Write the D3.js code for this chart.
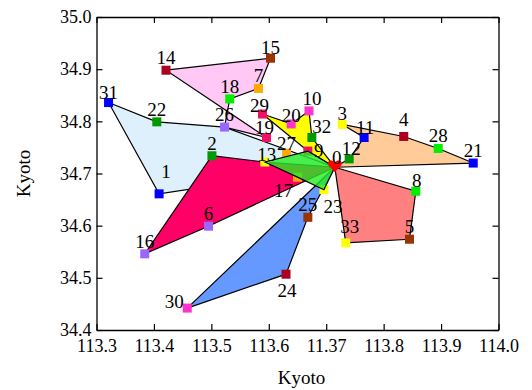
<!DOCTYPE html>
<html>
<head>
<meta charset="utf-8">
<script src="https://cdn.jsdelivr.net/npm/d3@7"></script>
<style>
  html, body { margin: 0; padding: 0; background: #ffffff; }
  svg text { font-family: "Liberation Serif", "DejaVu Serif", serif; fill: #000; }
</style>
</head>
<body>
<svg id="chart" width="532" height="390"></svg>
<script>
// Node coordinates (longitude, latitude), one entry per node id 0..33
const nodeLon = [113.715, 113.409, 113.501, 113.728, 113.835, 113.845, 113.495, 113.582, 113.856, 113.668,
                 113.670, 113.766, 113.740, 113.593, 113.421, 113.603, 113.384, 113.650, 113.532, 113.596,
                 113.639, 113.956, 113.405, 113.696, 113.630, 113.668, 113.523, 113.631, 113.895, 113.589,
                 113.458, 113.321, 113.675, 113.734];
const nodeLat = [34.712, 34.661, 34.734, 34.794, 34.771, 34.574, 34.599, 34.863, 34.666, 34.743,
                 34.820, 34.769, 34.728, 34.722, 34.898, 34.921, 34.546, 34.693, 34.843, 34.769,
                 34.795, 34.720, 34.799, 34.669, 34.507, 34.616, 34.789, 34.739, 34.748, 34.814,
                 34.442, 34.836, 34.769, 34.567];
const nodeColor = ["#ff0000", "#0000ff", "#009900", "#ffff00", "#aa0022", "#993300", "#9966ff", "#ffaa00", "#00ee00", "#ee1166",
                   "#ff33cc", "#0000ff", "#009900", "#ffff00", "#aa0022", "#993300", "#9966ff", "#ffaa00", "#00ee00", "#ee1166",
                   "#ff33cc", "#0000ff", "#009900", "#ffff00", "#aa0022", "#993300", "#9966ff", "#ffaa00", "#00ee00", "#ee1166",
                   "#ff33cc", "#0000ff", "#009900", "#ffff00"];

// Cluster outlines: node ids in ring order, fill colour and opacity
const groupRings = [
  [31, 22, 26, 0, 1],
  [14, 15, 7, 18, 26, 19],
  [29, 20, 10, 32, 0, 9],
  [12, 11, 3, 4, 28, 21, 0],
  [0, 8, 5, 33],
  [16, 2, 13, 0, 6],
  [30, 24, 25, 0],
  [13, 9, 0, 23, 17]
];
const groupFill = ["#ddf0fc", "#ffbaf2", "#ffff00", "#ffcc99", "#ff8080", "#ff0066", "#6699ff", "#22ee22"];
const groupOpacity = [1, 0.8, 1, 1, 1, 1, 1, 0.8];
const groupOnTop = [false, false, false, false, false, false, false, true];

// Axis ticks
const xTicks = [113.3, 113.4, 113.5, 113.6, 113.7, 113.8, 113.9, 114.0];
const xTickLabels = ["113.3", "113.4", "113.5", "113.6", "11.37", "113.8", "113.9", "114.0"];
const yTicks = [34.4, 34.5, 34.6, 34.7, 34.8, 34.9, 35.0];
const yTickLabels = ["34.4", "34.5", "34.6", "34.7", "34.8", "34.9", "35.0"];
const xTitle = "Kyoto";
const yTitle = "Kyoto";

const svg = d3.select("#chart");
const frame = { left: 96.5, right: 498.5, top: 17, bottom: 330 };

const x = d3.scaleLinear().domain([113.3, 114.0]).range([frame.left, frame.right]);
const y = d3.scaleLinear().domain([34.4, 35.0]).range([frame.bottom, frame.top]);

const nodes = nodeLon.map((lon, i) => ({ id: i, lon, lat: nodeLat[i], color: nodeColor[i] }));

const ringLine = d3.line()
  .x(id => x(nodeLon[id]))
  .y(id => y(nodeLat[id]))
  .curve(d3.curveLinearClosed);

function drawGroups(layer, onTop) {
  layer.selectAll("path")
    .data(groupRings.map((ring, i) => ({ ring, i })).filter(d => groupOnTop[d.i] === onTop))
    .join("path")
    .attr("d", d => ringLine(d.ring))
    .attr("fill", d => groupFill[d.i])
    .attr("fill-opacity", d => groupOpacity[d.i])
    .attr("stroke", "#000")
    .attr("stroke-width", 1.2)
    .attr("stroke-linejoin", "miter");
}

const plot = svg.append("g");
drawGroups(plot.append("g"), false);

// Node markers
const markerSize = 9;
plot.append("g").selectAll("rect")
  .data(nodes.filter(d => d.id !== 0))
  .join("rect")
  .attr("x", d => x(d.lon) - markerSize / 2)
  .attr("y", d => y(d.lat) - markerSize / 2)
  .attr("width", markerSize)
  .attr("height", markerSize)
  .attr("fill", d => d.color);

drawGroups(plot.append("g"), true);

// Hub node drawn as a heart
function heartPath(cx, cy) {
  const p = d3.path();
  p.moveTo(cx, cy + 6);
  p.bezierCurveTo(cx - 2, cy + 3, cx - 7, cy, cx - 7, cy - 3);
  p.bezierCurveTo(cx - 7, cy - 6, cx - 3, cy - 7, cx, cy - 4);
  p.bezierCurveTo(cx + 3, cy - 7, cx + 7, cy - 6, cx + 7, cy - 3);
  p.bezierCurveTo(cx + 7, cy, cx + 2, cy + 3, cx, cy + 6);
  p.closePath();
  return p.toString();
}
plot.append("path")
  .attr("d", heartPath(x(nodeLon[0]), y(nodeLat[0]) - 1))
  .attr("fill", nodeColor[0]);

// Node labels: placed above the marker unless a specific offset is given
const labelOffset = {
  0: [2, -3], 1: [7, -16], 4: [0, -10], 9: [11, 6], 10: [3, -6], 11: [1, -4], 12: [2, -4],
  3: [0, -4], 13: [2, -1], 15: [0, -4], 17: [-14, 20], 19: [-2, -4], 20: [0, -2],
  23: [9, 23], 24: [1, 23], 27: [0, -3], 29: [-3, -2], 30: [-13, 0], 31: [0, -4],
  32: [10, -5], 33: [4, -10], 8: [1, -4]
};
plot.append("g").selectAll("text")
  .data(nodes)
  .join("text")
  .attr("x", d => x(d.lon) + (labelOffset[d.id] ? labelOffset[d.id][0] : 0))
  .attr("y", d => y(d.lat) + (labelOffset[d.id] ? labelOffset[d.id][1] : -6))
  .attr("text-anchor", "middle")
  .attr("font-size", 19)
  .text(d => d.id);

// Axes: ticks point inwards on all four sides
const axisFont = 18;
const gx = svg.append("g").attr("transform", `translate(0,${frame.bottom})`)
  .call(d3.axisBottom(x).tickValues(xTicks).tickSizeInner(-6).tickSizeOuter(0)
    .tickPadding(9).tickFormat((d, i) => xTickLabels[i]));
const gy = svg.append("g").attr("transform", `translate(${frame.left},0)`)
  .call(d3.axisLeft(y).tickValues(yTicks).tickSizeInner(-6).tickSizeOuter(0)
    .tickPadding(5).tickFormat((d, i) => yTickLabels[i]));
const gt = svg.append("g").attr("transform", `translate(0,${frame.top})`)
  .call(d3.axisTop(x).tickValues(xTicks).tickSizeInner(-6).tickSizeOuter(0).tickFormat(""));
const gr = svg.append("g").attr("transform", `translate(${frame.right},0)`)
  .call(d3.axisRight(y).tickValues(yTicks).tickSizeInner(-6).tickSizeOuter(0).tickFormat(""));

[gx, gy, gt, gr].forEach(g => {
  g.select(".domain").attr("stroke", "#000").attr("stroke-width", 1.3);
  g.selectAll(".tick line").attr("stroke", "#000").attr("stroke-width", 1.2);
  g.selectAll(".tick text")
    .attr("font-family", "'Liberation Serif', serif")
    .attr("font-size", axisFont)
    .attr("fill", "#000");
});
gx.selectAll(".tick text").attr("dy", "0.71em");

svg.append("text")
  .attr("x", (frame.left + frame.right) / 2 + 4)
  .attr("y", 384)
  .attr("text-anchor", "middle")
  .attr("font-size", 19)
  .text(xTitle);

svg.append("text")
  .attr("transform", `translate(30,${(frame.top + frame.bottom) / 2}) rotate(-90)`)
  .attr("text-anchor", "middle")
  .attr("font-size", 19)
  .text(yTitle);
</script>
</body>
</html>
